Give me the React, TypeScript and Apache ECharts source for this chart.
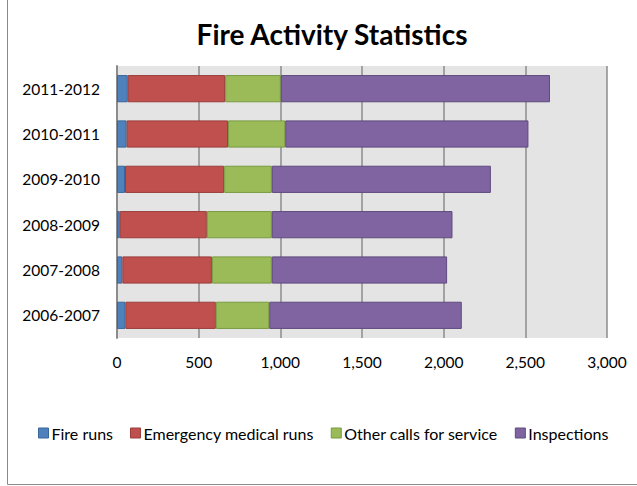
import React, { useEffect, useRef } from "react";
import * as echarts from "echarts";

const categories = ["2006-2007", "2007-2008", "2008-2009", "2009-2010", "2010-2011", "2011-2012"];
const fireRuns = [51, 33, 17, 49, 59, 66];
const emergencyMedicalRuns = [554, 548, 533, 607, 621, 596];
const otherCalls = [327, 367, 398, 292, 350, 341];
const inspections = [1179, 1073, 1106, 1341, 1489, 1648];
const seriesNames = ["Fire runs", "Emergency medical runs", "Other calls for service", "Inspections"];
const xTicks = { min: 0, max: 3000, interval: 500 };

const FONT = "Lato, 'Liberation Sans', sans-serif";

export default function App() {
  const ref = useRef<HTMLDivElement>(null);
  useEffect(() => {
    if (!ref.current) return;
    const chart = echarts.init(ref.current, null, { renderer: "svg" });
    const fills = ["#4f81bd", "#c0504d", "#9bbb59", "#8064a2"];
    const borders = ["#3a6699", "#9a3d3b", "#789a3f", "#5f4a7e"];
    const datas = [fireRuns, emergencyMedicalRuns, otherCalls, inspections];
    chart.setOption({
      animation: false,
      backgroundColor: "#ffffff",
      textStyle: { fontFamily: FONT },
      title: {
        text: "Fire Activity Statistics",
        left: 327,
        textAlign: "center",
        top: 15,
        textStyle: { fontFamily: FONT, fontSize: 28, fontWeight: "bold", color: "#000" },
      },
      graphic: [
        {
          type: "rect",
          shape: { x: 7.5, y: -5, width: 700, height: 489.5 },
          style: { fill: "none", stroke: "#8a8a8a", lineWidth: 1 },
          silent: true,
          z: 100,
        },
      ],
      legend: {
        top: 420,
        left: 33,
        icon: "rect",
        itemWidth: 10,
        itemHeight: 10,
        itemGap: 17,
        textStyle: { fontFamily: FONT, fontSize: 16, color: "#000", padding: [0, 0, 0, -2] },
        data: seriesNames.map((n, i) => ({
          name: n,
          itemStyle: { color: fills[i], borderColor: borders[i], borderWidth: 1 },
        })),
      },
      grid: { left: 117, right: 30, top: 66, bottom: 148, containLabel: false, show: true, backgroundColor: "#e4e4e4", borderWidth: 0 },
      xAxis: {
        type: "value",
        min: xTicks.min,
        max: xTicks.max,
        interval: xTicks.interval,
        axisLine: { show: false },
        axisTick: { show: false },
        axisLabel: {
          fontFamily: FONT,
          fontSize: 15.5,
          color: "#000",
          margin: 16,
          formatter: (v: number) => v.toLocaleString("en-US"),
        },
        splitLine: { show: true, lineStyle: { color: "#8c8c8c", width: 1.5 } },
      },
      yAxis: {
        type: "category",
        data: categories,
        axisLine: { show: true, lineStyle: { color: "#8c8c8c", width: 2 } },
        axisTick: { show: false },
        axisLabel: { fontFamily: FONT, fontSize: 15.5, color: "#000", margin: 17 },
        splitLine: { show: false },
      },
      series: seriesNames.map((n, i) => ({
        name: n,
        type: "bar",
        stack: "total",
        barCategoryGap: "40%",
        data: datas[i],
        itemStyle: { color: fills[i], borderColor: borders[i], borderWidth: 1 },
      })),
    });
    return () => chart.dispose();
  }, []);
  return <div ref={ref} style={{ position: "fixed", left: 0, top: 0, width: 637, height: 486 }} />;
}
